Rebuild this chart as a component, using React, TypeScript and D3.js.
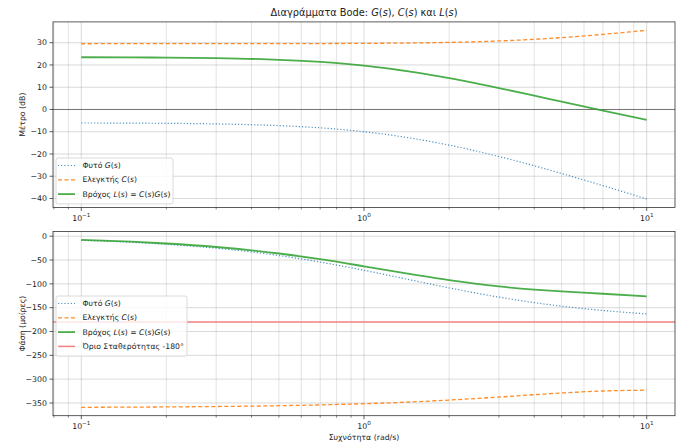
import React from "react";
import * as d3 from "d3";

// Frequencies (rad/s) sampled along the curves
const freqs = [0.1, 0.15, 0.2, 0.3, 0.5, 0.7, 1, 1.5, 2, 3, 4, 5, 7, 10];
// Magnitudes (dB)
const magG = [-6.07, -6.14, -6.23, -6.49, -7.25, -8.25, -10.0, -13.08, -16.02, -21.14, -25.31, -28.77, -34.23, -40.21];
const magC = [29.54, 29.55, 29.55, 29.56, 29.58, 29.62, 29.7, 29.89, 30.14, 30.78, 31.52, 32.29, 33.75, 35.56];
const magL = [23.47, 23.4, 23.31, 23.06, 22.33, 21.37, 19.7, 16.81, 14.12, 9.64, 6.21, 3.51, -0.48, -4.65];
// Phases (degrees)
const phG = [-8.57, -12.82, -17.02, -25.23, -40.6, -54.28, -71.57, -93.18, -108.43, -127.87, -139.4, -146.89, -155.93, -162.98];
const phC = [-359.14, -358.71, -358.28, -357.43, -355.72, -354.04, -351.55, -347.59, -343.91, -337.57, -332.65, -329.04, -324.83, -323.13];
const phL = [-7.71, -11.53, -15.3, -22.65, -36.32, -48.32, -63.12, -80.77, -92.34, -105.44, -112.05, -115.93, -120.76, -126.11];
const stabilityLimit = -180;

const magTicks = [-40, -30, -20, -10, 0, 10, 20, 30];
const phaseTicks = [-350, -300, -250, -200, -150, -100, -50, 0];
const decadeTicks = [0.1, 1, 10];
const decadeExp = ["−1", "0", "1"];

const FONT = "DejaVu Sans, sans-serif";
const C_BLUE = "#1f77b4";
const C_ORANGE = "#ff7f0e";
const C_GREEN = "#2ca02c";
const C_RED = "#f08080";
const TICK_FS = 7.8;

const X0 = 53, X1 = 675;
const x = d3.scaleLog().domain([Math.pow(10, -1.1), Math.pow(10, 1.1)]).range([X0, X1]);
const yTop = d3.scaleLinear().domain([-44.0, 39.35]).range([207.4, 21.9]);
const yBot = d3.scaleLinear().domain([-376.7, 9.86]).range([415.7, 231.5]);

const minorTicks: number[] = [];
for (const dec of [0.01, 0.1, 1, 10]) {
  for (let k = 2; k <= 9; k++) {
    const v = dec * k;
    if (v > x.domain()[0] && v < x.domain()[1]) minorTicks.push(v);
  }
}

function Ital({ children }: { children: React.ReactNode }) {
  return <tspan fontStyle="italic">{children}</tspan>;
}

function Panel({ y, ticks, series, hline, zeroLine, yLabel }: any) {
  const [b, t] = y.range();
  const line = (vals: number[]) =>
    d3.line<number>().x((_, i) => x(freqs[i])).y((v) => y(v)).curve(d3.curveMonotoneX)(vals) || "";
  const clipId = "clip" + Math.round(t);
  return (
    <g>
      <defs>
        <clipPath id={clipId}>
          <rect x={X0} y={t} width={X1 - X0} height={b - t} />
        </clipPath>
      </defs>
      {minorTicks.map((v) => (
        <line key={"mg" + v} x1={x(v)} x2={x(v)} y1={t} y2={b} stroke="#b0b0b0" strokeOpacity={0.45} strokeWidth={0.8} />
      ))}
      {decadeTicks.map((v) => (
        <line key={"Mg" + v} x1={x(v)} x2={x(v)} y1={t} y2={b} stroke="#b0b0b0" strokeOpacity={0.6} strokeWidth={0.8} />
      ))}
      {ticks.map((v: number) => (
        <line key={"hg" + v} x1={X0} x2={X1} y1={y(v)} y2={y(v)} stroke="#b0b0b0" strokeOpacity={0.6} strokeWidth={0.8} />
      ))}
      {zeroLine && <line x1={X0} x2={X1} y1={y(0)} y2={y(0)} stroke="#000" strokeOpacity={0.6} strokeWidth={0.8} />}
      <g clipPath={`url(#${clipId})`}>
        {hline !== undefined && (
          <line x1={X0} x2={X1} y1={y(hline)} y2={y(hline)} stroke={C_RED} strokeWidth={1.5} />
        )}
        {series.map((s: any, i: number) => (
          <path key={i} d={line(s.vals)} fill="none" stroke={s.color} strokeWidth={s.w}
            strokeDasharray={s.dash} strokeOpacity={s.op} />
        ))}
      </g>
      <rect x={X0} y={t} width={X1 - X0} height={b - t} fill="none" stroke="#333" strokeWidth={0.8} />
      {ticks.map((v: number) => (
        <g key={"yt" + v}>
          <line x1={X0 - 3.5} x2={X0} y1={y(v)} y2={y(v)} stroke="#333" strokeWidth={0.8} />
          <text x={X0 - 6} y={y(v)} dy="0.35em" textAnchor="end" fontSize={TICK_FS} fontFamily={FONT} fill="#222">
            {v < 0 ? "−" + Math.abs(v) : String(v)}
          </text>
        </g>
      ))}
      {minorTicks.map((v) => (
        <line key={"mt" + v} x1={x(v)} x2={x(v)} y1={b} y2={b + 2} stroke="#333" strokeWidth={0.6} />
      ))}
      {decadeTicks.map((v, i) => (
        <g key={"xt" + v}>
          <line x1={x(v)} x2={x(v)} y1={b} y2={b + 3.5} stroke="#333" strokeWidth={0.8} />
          <text x={x(v)} y={b + 13.5} textAnchor="middle" fontSize={TICK_FS} fontFamily={FONT} fill="#222">
            10<tspan dy={-4} fontSize={5.6}>{decadeExp[i]}</tspan>
          </text>
        </g>
      ))}
      <text transform={`translate(${25},${(t + b) / 2}) rotate(-90)`} textAnchor="middle" fontSize={TICK_FS}
        fontFamily={FONT} fill="#222">{yLabel}</text>
    </g>
  );
}

function Legend({ x0, y0, w, items }: any) {
  const rowH = 14.3;
  const h = items.length * rowH + 3;
  return (
    <g>
      <rect x={x0} y={y0} width={w} height={h} rx={2} fill="#fff" fillOpacity={0.8} stroke="#d0d0d0" strokeWidth={0.8} />
      {items.map((it: any, i: number) => {
        const cy = y0 + 7.5 + rowH * i;
        return (
          <g key={i}>
            <line x1={x0 + 2} x2={x0 + 19} y1={cy} y2={cy} stroke={it.color} strokeWidth={it.w}
              strokeDasharray={it.dash} strokeOpacity={it.op} />
            <text x={x0 + 26.5} y={cy} dy="0.35em" fontSize={7.7} fontFamily={FONT} fill="#222">{it.label}</text>
          </g>
        );
      })}
    </g>
  );
}

const labelG = <>Φυτό <Ital>G</Ital>(<Ital>s</Ital>)</>;
const labelC = <>Ελεγκτής <Ital>C</Ital>(<Ital>s</Ital>)</>;
const labelL = <>Βρόχος <Ital>L</Ital>(<Ital>s</Ital>) = <Ital>C</Ital>(<Ital>s</Ital>)<Ital>G</Ital>(<Ital>s</Ital>)</>;

export default function App() {
  const sG = { color: C_BLUE, w: 1.2, dash: "1.2,2", op: 0.8 };
  const sC = { color: C_ORANGE, w: 1.3, dash: "4,2.5", op: 0.9 };
  const sL = { color: C_GREEN, w: 1.8, dash: undefined, op: 0.85 };
  const sR = { color: C_RED, w: 1.5, dash: undefined, op: 1 };
  return (
    <svg width={680} height={447} style={{ position: "absolute", left: 0, top: 0, background: "#fff" }}>
      <rect width={680} height={447} fill="#fff" />
      <text x={364} y={15.5} textAnchor="middle" fontSize={9.8} fontFamily={FONT} fill="#222">
        Διαγράμματα Bode: <Ital>G</Ital>(<Ital>s</Ital>), <Ital>C</Ital>(<Ital>s</Ital>) και <Ital>L</Ital>(<Ital>s</Ital>)
      </text>
      <Panel y={yTop} ticks={magTicks} zeroLine yLabel="Μέτρο (dB)"
        series={[{ ...sG, vals: magG }, { ...sC, vals: magC }, { ...sL, vals: magL }]} />
      <Panel y={yBot} ticks={phaseTicks} hline={stabilityLimit} yLabel="Φάση (μοίρες)"
        series={[{ ...sG, vals: phG }, { ...sC, vals: phC }, { ...sL, vals: phL }]} />
      <Legend x0={56} y0={158} w={117} items={[
        { ...sG, label: labelG }, { ...sC, label: labelC }, { ...sL, label: labelL }]} />
      <Legend x0={56} y0={296} w={131} items={[
        { ...sG, label: labelG }, { ...sC, label: labelC }, { ...sL, label: labelL },
        { ...sR, label: <>Όριο Σταθερότητας -180°</> }]} />
      <text x={364} y={440} textAnchor="middle" fontSize={TICK_FS} fontFamily={FONT} fill="#222">Συχνότητα (rad/s)</text>
    </svg>
  );
}
